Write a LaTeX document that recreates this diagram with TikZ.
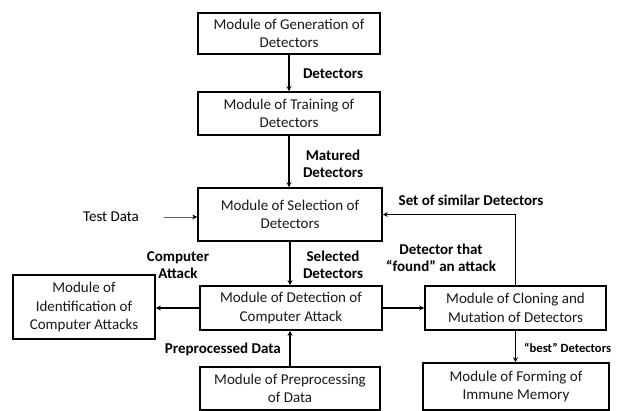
\documentclass[tikz,border=0pt]{standalone}
\usepackage{fontspec}
\setmainfont{Carlito}
\usetikzlibrary{arrows.meta}
\begin{document}
\begin{tikzpicture}[x=1pt,y=-1pt,
  box/.style={draw, line width=1.6pt, align=center, inner sep=0pt,
    font=\fontsize{15}{18.5}\selectfont, text=black!90},
  lbl/.style={font=\fontsize{15}{17.5}\selectfont\bfseries, align=center, inner sep=0pt},
  conn/.style={line width=1.6pt, -{Stealth[length=5pt,width=5pt]}},
  thin/.style={line width=0.6pt, black!60, -{Stealth[length=5pt,width=5pt,black]}}]
\useasboundingbox[fill=white] (0,0) rectangle (617,411);
% boxes
\node[box, minimum width=182pt, minimum height=41pt] (gen) at (289,33.5) {Module of Generation of\\Detectors};
\node[box, minimum width=182pt, minimum height=43pt] (train) at (289,113.5) {Module of Training of\\Detectors};
\node[box, minimum width=184pt, minimum height=53pt] (sel) at (290,214.5) {Module of Selection of\\Detectors};
\node[box, minimum width=182pt, minimum height=44pt] (det) at (291,308) {Module of Detection of\\Computer Attack};
\node[box, minimum width=180pt, minimum height=43pt] (pre) at (290,388.5) {Module of Preprocessing\\of Data};
\node[box, minimum width=142pt, minimum height=64pt] (ident) at (84,307) {Module of\\Identification of\\Computer Attacks};
\node[box, minimum width=181pt, minimum height=44pt] (clon) at (515.5,308) {Module of Cloning and\\Mutation of Detectors};
\node[box, minimum width=186pt, minimum height=47pt] (form) at (516,386.5) {Module of Forming of\\Immune Memory};
% free text
\node[font=\fontsize{15}{18}\selectfont, inner sep=0pt] (test) at (111,217) {Test Data};
\coordinate (testend) at (164,217);
% connectors
\draw[conn] (gen.south) -- (gen.south |- train.north);
\draw[conn] (train.south) -- (train.south |- sel.north);
\draw[conn] (sel.south) -- (sel.south |- det.north);
\draw[conn] (pre.north) -- (pre.north |- det.south);
\draw[conn] (det.west) -- (det.west -| ident.east);
\draw[conn] (det.east) -- (det.east -| clon.west);
\draw[conn] (clon.south) -- (clon.south |- form.north);
\draw[conn] (clon.north) |- (sel.east);
\draw[thin] (testend) -- (testend -| sel.west);
% labels
\node[lbl] (l1) at (333,74) {Detectors};
\node[lbl] (l2) at (333,164) {Matured\\Detectors};
\node[lbl] (l3) at (333,265) {Selected\\Detectors};
\node[lbl] (l4) at (178,265) {Computer\\Attack};
\node[lbl, anchor=east] (l5) at (281,349) {Preprocessed Data};
\node[lbl, anchor=west, font=\fontsize{12.6}{15}\selectfont\bfseries] (l6) at (524,348) {“best” Detectors};
\node[lbl] (l7) at (471,200) {Set of similar Detectors};
\node[lbl] (l8) at (441,258) {Detector that\\“found” an attack};
\end{tikzpicture}
\end{document}
